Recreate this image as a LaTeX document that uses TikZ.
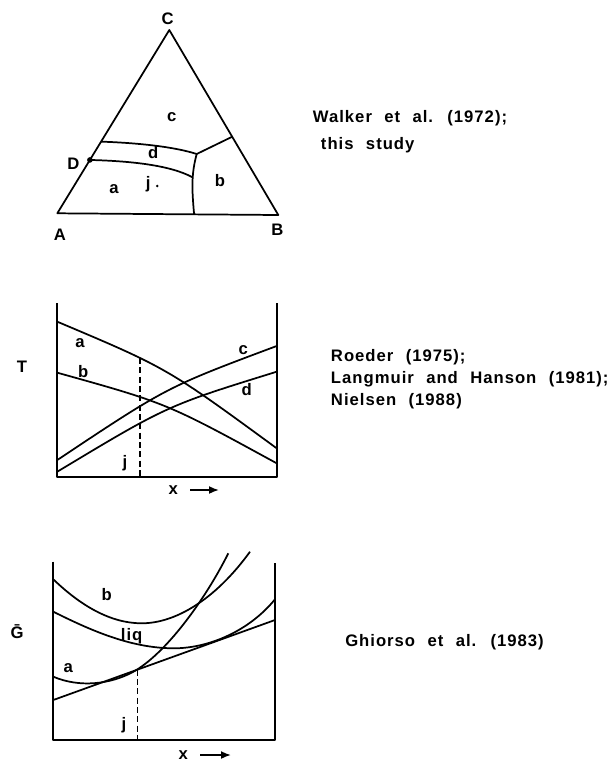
\documentclass[tikz,border=0pt]{standalone}
\usepackage{fontspec}
\setmainfont{Liberation Sans}[LetterSpace=6, WordSpace=2.2]
\usetikzlibrary{calc,arrows.meta}
\begin{document}
\begin{tikzpicture}[
    x=0.75pt, y=-0.75pt,
    lbl/.style = {font=\bfseries\fontsize{12.5}{14}\selectfont, inner sep=0pt},
    cite/.style = {font=\bfseries\fontsize{12.5}{15}\selectfont, anchor=base west, inner sep=0pt},
    curve/.style = {line width=1.3pt, line join=round},
    guide/.style = {line width=1pt, dash pattern=on 4.5pt off 2.5pt},
    arrow/.style = {line width=1.3pt, -{Latex[length=7.5pt, width=6pt]}}
]
    \useasboundingbox (0,0) rectangle (615,771);

    % ternary diagram
    \coordinate (A) at (57.3,213.3);
    \coordinate (B) at (278.3,215);
    \coordinate (C) at (169.3,30);
    \draw[curve] (A) -- (B) -- (C) -- cycle;
    \coordinate (dtop) at ($(C)!0.609!(A)$);
    \coordinate (D) at ($(C)!0.709!(A)$);
    \coordinate (jn) at (196.7,154);
    \coordinate (jb) at ($(C)!0.577!(B)$);
    \coordinate (foot) at ($(A)!0.619!(B)$);
    \coordinate (jd) at (192.7,177.4);
    \draw[curve] (dtop) .. controls (140,143) and (175,147) .. (jn);
    \draw[curve] (D) .. controls (130,161) and (170,165) .. (jd);
    \draw[curve] (jn) .. controls (191,175) and (192,190) .. (foot);
    \draw[curve] (jn) -- (jb);
    \fill (D) circle (2.8);
    \fill (157.3,186) circle (1.4);

    \node[lbl] (lC) at (167.7,19) {C};
    \node[lbl] (lA) at (60,235) {A};
    \node[lbl] (lB) at (277.3,230) {B};
    \node[lbl] (lD) at (73.3,164) {D};
    \node[lbl] (rc) at (171.7,116.7) {c};
    \node[lbl] (rd) at (153.3,153) {d};
    \node[lbl] (ra) at (114,189.3) {a};
    \node[lbl] (rj) at (148.3,184.3) {j};
    \node[lbl] (rb) at (220,180.7) {b};

    \node[cite] (walker) at (312.7,122.3) {Walker et al. (1972);};
    \node[cite] (study) at (320.7,149) {this study};

    % T-x section
    \coordinate (Ttl) at (57.3,303.3);
    \coordinate (Tbl) at (57.3,476.7);
    \coordinate (Tbr) at (276.7,476.7);
    \coordinate (Ttr) at (276.7,303.3);
    \draw[curve] (Ttl) -- (Tbl) -- (Tbr) -- (Ttr);
    \draw[curve] (57.3,321.7) .. controls (167,368) .. (276.7,448.3);
    \draw[curve] (57.3,372.7) .. controls (167,403.3) .. (276.7,463.3);
    \draw[curve] (57.3,460) .. controls (167,387) .. (276.7,346);
    \draw[curve] (57.3,471.7) .. controls (167,405.7) .. (276.7,371.7);
    \coordinate (jT) at (140,358);
    \coordinate (jTb) at (140,476.7);
    \draw[guide] (jT) -- (jTb);

    \node[lbl] (Ta) at (80,343.3) {a};
    \node[lbl] (Tb) at (83.3,371.7) {b};
    \node[lbl] (Tc) at (243.3,350) {c};
    \node[lbl] (Td) at (246.7,390) {d};
    \node[lbl] (Tj) at (125,463.3) {j};
    \node[lbl] (Tlab) at (22,367) {T};
    \node[lbl] (xT) at (173.3,490) {x};
    \coordinate (xTend) at (219,490);
    \draw[arrow, shorten <=9pt] (xT.east) -- (xTend);

    \node[cite] (roeder) at (330.7,361.7) {Roeder (1975);};
    \node[cite] (langmuir) at (330.7,383.3) {Langmuir and Hanson (1981);};
    \node[cite] (nielsen) at (330.7,405) {Nielsen (1988)};

    % G-x section
    \coordinate (Gtl) at (53.3,561.7);
    \coordinate (Gbl) at (53.3,740);
    \coordinate (Gbr) at (275,740);
    \coordinate (Gtr) at (275,563.3);
    \draw[curve] (Gtl) -- (Gbl) -- (Gbr) -- (Gtr);
    \draw[curve] (53.3,579.3) .. controls (80,605) and (110,623.3) .. (141.7,623.3)
        .. controls (175,623.3) and (215,600) .. (250,551.7);
    \draw[curve] (53.3,611.7) .. controls (90,630) and (130,648) .. (173,648.3)
        .. controls (210,648.5) and (250,630) .. (275,599.3);
    \draw[curve] (53.3,700) -- (275,620);
    \draw[curve] (53.3,676.7) .. controls (80,688) and (110,684) .. (132,672.5)
        .. controls (165,655) and (205,600) .. (228.3,553.3);
    \coordinate (jG) at (137.7,669.5);
    \coordinate (jGb) at (137.7,740);
    \draw[guide] (jG) -- (jGb);

    \node[lbl] (Gb) at (106.7,595) {b};
    \node[lbl, anchor=base] (Gliq) at (131.7,640) {liq};
    \node[lbl] (Ga) at (68.3,668.3) {a};
    \node[lbl] (Gj) at (124,725) {j};
    \node[lbl] (Glab) at (17,632) {\=G};
    \node[lbl] (xG) at (183.3,755) {x};
    \coordinate (xGend) at (231,755);
    \draw[arrow, shorten <=9pt] (xG.east) -- (xGend);

    \node[cite] (ghiorso) at (345,646.7) {Ghiorso et al. (1983)};
\end{tikzpicture}
\end{document}
